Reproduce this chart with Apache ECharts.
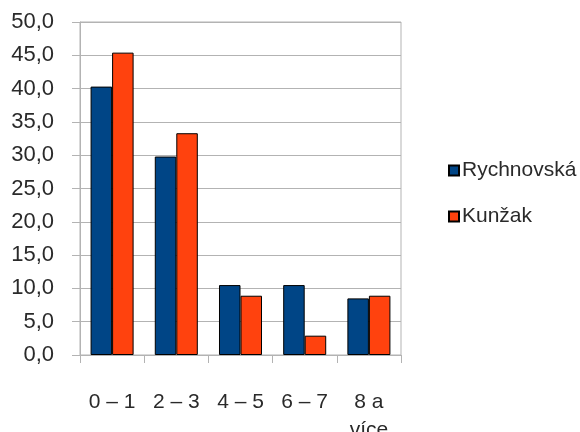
<!DOCTYPE html>
<html>
<head>
<meta charset="utf-8">
<script src="https://cdn.jsdelivr.net/npm/echarts@6/dist/echarts.min.js"></script>
<style>
  html, body { margin: 0; padding: 0; background: #fff; }
  #chart { width: 580px; height: 432px; }
</style>
</head>
<body>
<div id="chart"></div>
<script>
// Age groups (years) and share of each group (%)
const categories = ['0 – 1', '2 – 3', '4 – 5', '6 – 7', '8 a\nvíce'];
const rychnovska = [40.3, 29.8, 10.5, 10.5, 8.5];
const kunzak = [45.4, 33.3, 8.9, 2.9, 8.9];
const yTicks = { min: 0, max: 50, interval: 5 };

const font = 'Liberation Sans, Arial, sans-serif';
const gridColor = '#b3b3b3';
const textColor = '#2a2a2a';

const chart = echarts.init(document.getElementById('chart'), null, { renderer: 'canvas' });
chart.setOption({
  animation: false,
  textStyle: { fontFamily: font },
  grid: {
    left: 80, right: 179, top: 22, bottom: 77,
    outerBoundsMode: 'none', containLabel: false,
    show: true, borderColor: gridColor, borderWidth: 1
  },
  legend: {
    orient: 'vertical',
    left: 443,
    top: 155,
    itemWidth: 10,
    itemHeight: 10,
    itemGap: 25,
    icon: 'rect',
    textStyle: { fontFamily: font, fontSize: 21, color: textColor, padding: [0, 0, 0, -2] },
    data: ['Rychnovská', 'Kunžak']
  },
  xAxis: {
    type: 'category',
    data: categories,
    axisLine: { lineStyle: { color: gridColor } },
    axisTick: { show: true, length: 8, alignWithLabel: false, lineStyle: { color: gridColor } },
    axisLabel: { fontFamily: font, fontSize: 21, color: textColor, margin: 33, lineHeight: 28, interval: 0 }
  },
  yAxis: {
    type: 'value',
    min: yTicks.min,
    max: yTicks.max,
    interval: yTicks.interval,
    axisLine: { show: true, lineStyle: { color: gridColor } },
    axisTick: { show: true, length: 8, lineStyle: { color: gridColor } },
    splitLine: { lineStyle: { color: gridColor } },
    axisLabel: {
      fontFamily: font, fontSize: 22, color: textColor, margin: 26,
      formatter: v => v.toFixed(1).replace('.', ',')
    }
  },
  series: [
    {
      name: 'Rychnovská', type: 'bar', data: rychnovska,
      barGap: '0%', barCategoryGap: '33%',
      itemStyle: { color: '#004586', borderColor: '#000', borderWidth: 1 }
    },
    {
      name: 'Kunžak', type: 'bar', data: kunzak,
      barGap: '0%', barCategoryGap: '33%',
      itemStyle: { color: '#ff420e', borderColor: '#000', borderWidth: 1 }
    }
  ]
});
</script>
</body>
</html>
